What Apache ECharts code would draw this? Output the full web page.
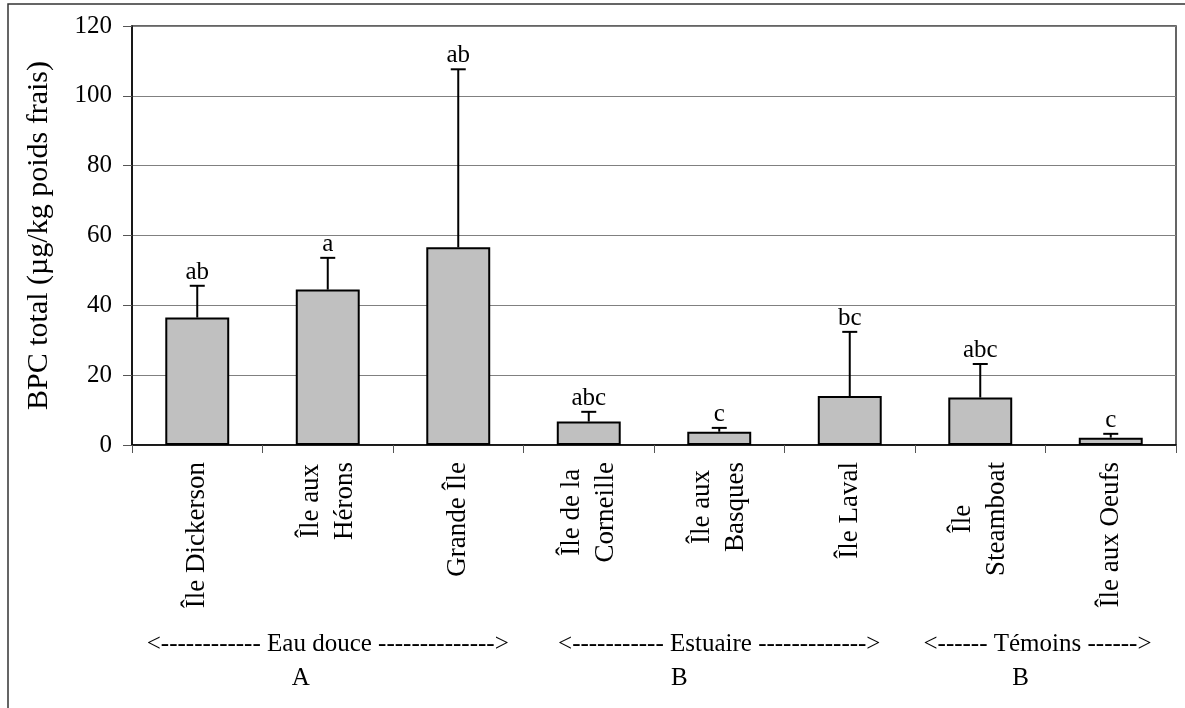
<!DOCTYPE html>
<html>
<head>
<meta charset="utf-8">
<script src="https://cdn.jsdelivr.net/npm/echarts@6/dist/echarts.min.js"></script>
<style>
  html, body { margin: 0; padding: 0; background: #fff; }
  #chart { width: 1185px; height: 708px; }
</style>
</head>
<body>
<div id="chart"></div>
<script>
// Total PCB per colony site (µg/kg wet weight): mean and upper error
const categories = ['Île Dickerson', 'Île aux\nHérons', 'Grande Île', 'Île de la\nCorneille',
                    'Île aux\nBasques', 'Île Laval', 'Île\nSteamboat', 'Île aux Oeufs'];
const means      = [36.5, 44.5, 56.6, 6.7, 3.8, 14.0, 13.6, 2.1];
const upperError = [9.1, 9.1, 51.0, 2.8, 1.1, 18.4, 9.6, 1.1];
const letters    = ['ab', 'a', 'ab', 'abc', 'c', 'bc', 'abc', 'c'];

// y axis ticks
const yMin = 0, yMax = 120, yStep = 20;

// site groups along the x axis
const groupNames   = ['Eau douce', 'Estuaire', 'Témoins'];
const groupLetters = ['A', 'B', 'B'];
const groupFirst   = [0, 3, 6];
const groupLast    = [2, 5, 7];
const groupDashesL = [12, 11, 6];
const groupDashesR = [14, 13, 6];

const FONT = '"Liberation Serif", "Times New Roman", serif';
// horizontal nudges (px) of the captions and of the group letters
const captionShift = [0, 0, -8];
const letterShift  = [-27, -40, -25];

const chart = echarts.init(document.getElementById('chart'), null, { renderer: 'canvas' });

const errData = means.map((m, i) => [i, m, m + upperError[i]]);

chart.setOption({
  animation: false,
  backgroundColor: '#fff',
  grid: {
    left: 132, right: 9, top: 26, bottom: 263,
    show: true, borderColor: '#333', borderWidth: 1.5,
    containLabel: false, outerBoundsMode: 'none'
  },
  xAxis: {
    type: 'category',
    data: categories,
    boundaryGap: true,
    axisLine: { lineStyle: { color: '#000', width: 1.5 } },
    axisTick: { show: true, length: 8, lineStyle: { color: '#555', width: 1 } },
    axisLabel: {
      interval: 0, rotate: 90, margin: 17,
      color: '#000', fontFamily: FONT, fontSize: 27, lineHeight: 34,
      formatter: v => v.indexOf('\n') < 0 ? v : v.split('\n').map(s => '{c|' + s + '}').join('\n'),
      rich: { c: { align: 'center', fontFamily: FONT, fontSize: 27, lineHeight: 34, color: '#000' } }
    }
  },
  yAxis: {
    type: 'value',
    min: yMin, max: yMax, interval: yStep,
    name: 'BPC total (µg/kg poids frais)',
    nameLocation: 'middle', nameGap: 78,
    nameTextStyle: { color: '#000', fontFamily: FONT, fontSize: 30 },
    axisLine: { show: true, lineStyle: { color: '#000', width: 1.5 } },
    axisTick: { show: true, length: 9, lineStyle: { color: '#555', width: 1 } },
    axisLabel: { margin: 20, color: '#000', fontFamily: FONT, fontSize: 25 },
    splitLine: { show: true, lineStyle: { color: '#808080', width: 1 } }
  },
  series: [
    {
      type: 'bar',
      data: means,
      barWidth: '49%',
      itemStyle: { color: '#c0c0c0', borderColor: '#000', borderWidth: 2 },
      z: 2
    },
    {
      type: 'custom',
      data: errData,
      z: 3,
      renderItem: function (params, api) {
        const i = api.value(0);
        const base = api.coord([i, api.value(1)]);
        const top = api.coord([i, api.value(2)]);
        const half = 7.5;
        return {
          type: 'group',
          children: [
            { type: 'line', shape: { x1: base[0], y1: base[1], x2: top[0], y2: top[1] },
              style: { stroke: '#000', lineWidth: 2 } },
            { type: 'line', shape: { x1: top[0] - half, y1: top[1], x2: top[0] + half, y2: top[1] },
              style: { stroke: '#000', lineWidth: 2 } },
            { type: 'text',
              style: { text: letters[params.dataIndex], x: top[0], y: top[1] - 1,
                       align: 'center', verticalAlign: 'bottom',
                       font: '25px ' + FONT, fill: '#000' } }
          ]
        };
      }
    }
  ]
});

// group captions under the site names, centred on each group of categories
const graphics = [
  { type: 'rect', shape: { x: 8, y: 4, width: 1200, height: 800 },
    style: { fill: 'none', stroke: '#333', lineWidth: 1.5 }, silent: true }
];
groupNames.forEach((name, g) => {
  const x0 = chart.convertToPixel({ xAxisIndex: 0 }, groupFirst[g]);
  const x1 = chart.convertToPixel({ xAxisIndex: 0 }, groupLast[g]);
  const cx = (x0 + x1) / 2;
  const caption = '<' + '-'.repeat(groupDashesL[g]) + ' ' + name + ' ' + '-'.repeat(groupDashesR[g]) + '>';
  graphics.push({
    type: 'text', x: cx + captionShift[g], y: 644,
    style: { text: caption, align: 'center', verticalAlign: 'middle', font: '25px ' + FONT, fill: '#000' }
  });
  graphics.push({
    type: 'text', x: cx + letterShift[g], y: 678,
    style: { text: groupLetters[g], align: 'center', verticalAlign: 'middle', font: '25px ' + FONT, fill: '#000' }
  });
});
chart.setOption({ graphic: graphics });
</script>
</body>
</html>
